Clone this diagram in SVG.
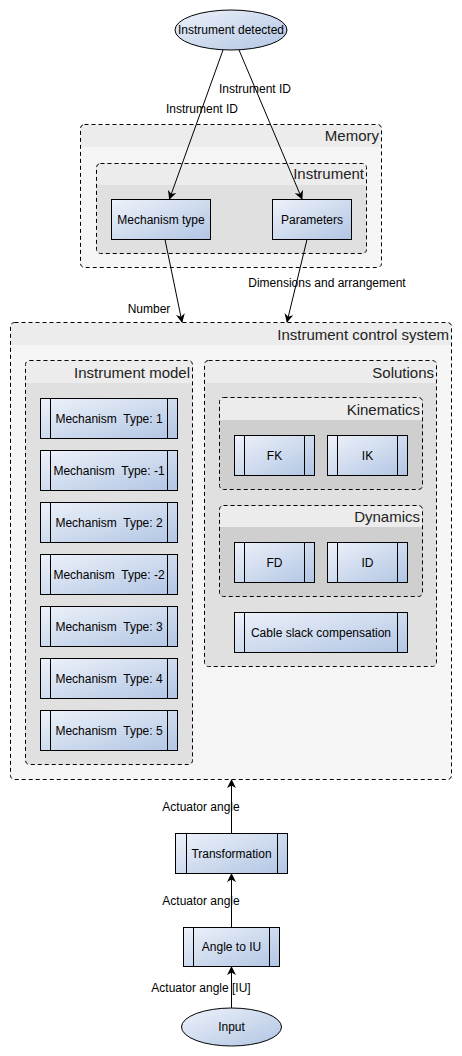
<svg xmlns="http://www.w3.org/2000/svg" width="462" height="1056" viewBox="0 0 462 1056">
<defs>
<linearGradient id="g" x1="0" y1="0" x2="1" y2="1">
<stop offset="0" stop-color="#eef2fa"/>
<stop offset="1" stop-color="#b1c5e3"/>
</linearGradient>
<marker id="arr" viewBox="0 0 10 10" refX="9" refY="5" markerWidth="9" markerHeight="9" orient="auto" markerUnits="userSpaceOnUse">
<path d="M0,0 L10,5 L0,10 L3,5 Z" fill="#000"/>
</marker>
</defs>
<style>
text{font-family:"Liberation Sans",Arial,sans-serif;fill:#000;white-space:pre}
.lbl{font-size:12px;text-anchor:middle;dominant-baseline:central}
.ttl{font-size:15px;text-anchor:end;fill:#222}
.box{fill:url(#g);stroke:#000;stroke-width:1}
.bar{stroke:#000;stroke-width:1}
.cont{stroke:#000;stroke-width:1;stroke-dasharray:4,3}
.line{stroke:#000;stroke-width:1;fill:none;marker-end:url(#arr)}
</style>
<rect width="462" height="1056" fill="#fff"/>

<g id="memory">
<rect x="80.5" y="124.5" width="301" height="143" rx="4" fill="#f5f5f5"/>
<rect x="81" y="125" width="300" height="22" fill="#ececec"/>
<rect x="80.5" y="124.5" width="301" height="143" rx="4" fill="none" class="cont"/>
<text class="ttl" x="379" y="141">Memory</text>
</g>
<g id="instrument">
<rect x="96.5" y="163.5" width="270" height="90" rx="4" fill="#e0e0e0"/>
<rect x="97" y="164" width="269" height="21" fill="#ececec"/>
<rect x="96.5" y="163.5" width="270" height="90" rx="4" fill="none" class="cont"/>
<text class="ttl" x="364" y="179">Instrument</text>
</g>
<g id="mechanism-type">
<rect class="box" x="111.5" y="199.5" width="99" height="40"/>
<text class="lbl" x="161" y="219.5">Mechanism type</text>
</g>
<g id="parameters">
<rect class="box" x="272.5" y="199.5" width="79" height="40"/>
<text class="lbl" x="312" y="219.5">Parameters</text>
</g>

<g id="instrument-detected">
<ellipse cx="231" cy="30" rx="56" ry="20" fill="url(#g)" stroke="#000"/>
<text class="lbl" x="231" y="30">Instrument detected</text>
</g>

<g id="ics">
<rect x="10.5" y="322.5" width="441" height="457" rx="4" fill="#f5f5f5"/>
<rect x="11" y="323" width="440" height="22" fill="#ececec"/>
<rect x="10.5" y="322.5" width="441" height="457" rx="4" fill="none" class="cont"/>
<text class="ttl" x="449" y="340">Instrument control system</text>
</g>
<g id="instrument-model">
<rect x="25.5" y="360.5" width="167" height="404" rx="4" fill="#e0e0e0"/>
<rect x="26" y="361" width="166" height="22" fill="#ececec"/>
<rect x="25.5" y="360.5" width="167" height="404" rx="4" fill="none" class="cont"/>
<text class="ttl" x="190" y="378">Instrument model</text>
</g>
<g id="solutions">
<rect x="204.5" y="360.5" width="232" height="306" rx="4" fill="#e0e0e0"/>
<rect x="205" y="361" width="231" height="22" fill="#ececec"/>
<rect x="204.5" y="360.5" width="232" height="306" rx="4" fill="none" class="cont"/>
<text class="ttl" x="434" y="378">Solutions</text>
</g>
<g id="kinematics">
<rect x="219.5" y="397.5" width="203" height="92" rx="4" fill="#cfcfcf"/>
<rect x="220" y="398" width="202" height="22" fill="#ececec"/>
<rect x="219.5" y="397.5" width="203" height="92" rx="4" fill="none" class="cont"/>
<text class="ttl" x="420" y="415">Kinematics</text>
</g>
<g id="dynamics">
<rect x="219.5" y="505.5" width="203" height="91" rx="4" fill="#cfcfcf"/>
<rect x="220" y="506" width="202" height="21" fill="#ececec"/>
<rect x="219.5" y="505.5" width="203" height="91" rx="4" fill="none" class="cont"/>
<text class="ttl" x="420" y="522">Dynamics</text>
</g>

<g id="fk"><rect class="box" x="234.5" y="435.5" width="80" height="40"/><line class="bar" x1="244.5" y1="435.5" x2="244.5" y2="475.5"/><line class="bar" x1="304.5" y1="435.5" x2="304.5" y2="475.5"/><text class="lbl" x="274.5" y="455.5">FK</text></g>
<g id="ik"><rect class="box" x="327.5" y="435.5" width="80" height="40"/><line class="bar" x1="337.5" y1="435.5" x2="337.5" y2="475.5"/><line class="bar" x1="397.5" y1="435.5" x2="397.5" y2="475.5"/><text class="lbl" x="367.5" y="455.5">IK</text></g>
<g id="fd"><rect class="box" x="234.5" y="542.5" width="80" height="40"/><line class="bar" x1="244.5" y1="542.5" x2="244.5" y2="582.5"/><line class="bar" x1="304.5" y1="542.5" x2="304.5" y2="582.5"/><text class="lbl" x="274.5" y="562.5">FD</text></g>
<g id="id"><rect class="box" x="327.5" y="542.5" width="80" height="40"/><line class="bar" x1="337.5" y1="542.5" x2="337.5" y2="582.5"/><line class="bar" x1="397.5" y1="542.5" x2="397.5" y2="582.5"/><text class="lbl" x="367.5" y="562.5">ID</text></g>
<g id="cable-slack"><rect class="box" x="234.5" y="612.5" width="173" height="40"/><line class="bar" x1="244.5" y1="612.5" x2="244.5" y2="652.5"/><line class="bar" x1="397.5" y1="612.5" x2="397.5" y2="652.5"/><text class="lbl" x="321" y="632.5">Cable slack compensation</text></g>

<g id="mt1"><rect class="box" x="40.5" y="398.5" width="137" height="40"/><line class="bar" x1="50.5" y1="398.5" x2="50.5" y2="438.5"/><line class="bar" x1="167.5" y1="398.5" x2="167.5" y2="438.5"/><text class="lbl" x="109" y="418.5" xml:space="preserve">Mechanism  Type: 1</text></g>
<g id="mt-1"><rect class="box" x="40.5" y="450.5" width="137" height="40"/><line class="bar" x1="50.5" y1="450.5" x2="50.5" y2="490.5"/><line class="bar" x1="167.5" y1="450.5" x2="167.5" y2="490.5"/><text class="lbl" x="109" y="470.5" xml:space="preserve">Mechanism  Type: -1</text></g>
<g id="mt2"><rect class="box" x="40.5" y="502.5" width="137" height="40"/><line class="bar" x1="50.5" y1="502.5" x2="50.5" y2="542.5"/><line class="bar" x1="167.5" y1="502.5" x2="167.5" y2="542.5"/><text class="lbl" x="109" y="522.5" xml:space="preserve">Mechanism  Type: 2</text></g>
<g id="mt-2"><rect class="box" x="40.5" y="554.5" width="137" height="40"/><line class="bar" x1="50.5" y1="554.5" x2="50.5" y2="594.5"/><line class="bar" x1="167.5" y1="554.5" x2="167.5" y2="594.5"/><text class="lbl" x="109" y="574.5" xml:space="preserve">Mechanism  Type: -2</text></g>
<g id="mt3"><rect class="box" x="40.5" y="606.5" width="137" height="40"/><line class="bar" x1="50.5" y1="606.5" x2="50.5" y2="646.5"/><line class="bar" x1="167.5" y1="606.5" x2="167.5" y2="646.5"/><text class="lbl" x="109" y="626.5" xml:space="preserve">Mechanism  Type: 3</text></g>
<g id="mt4"><rect class="box" x="40.5" y="658.5" width="137" height="40"/><line class="bar" x1="50.5" y1="658.5" x2="50.5" y2="698.5"/><line class="bar" x1="167.5" y1="658.5" x2="167.5" y2="698.5"/><text class="lbl" x="109" y="678.5" xml:space="preserve">Mechanism  Type: 4</text></g>
<g id="mt5"><rect class="box" x="40.5" y="710.5" width="137" height="40"/><line class="bar" x1="50.5" y1="710.5" x2="50.5" y2="750.5"/><line class="bar" x1="167.5" y1="710.5" x2="167.5" y2="750.5"/><text class="lbl" x="109" y="730.5" xml:space="preserve">Mechanism  Type: 5</text></g>

<g id="transformation"><rect class="box" x="175.5" y="833.5" width="112" height="40"/><line class="bar" x1="186.5" y1="833.5" x2="186.5" y2="873.5"/><line class="bar" x1="277.5" y1="833.5" x2="277.5" y2="873.5"/><text class="lbl" x="231.5" y="853.5">Transformation</text></g>
<g id="angle-to-iu"><rect class="box" x="183.5" y="927.5" width="96" height="39"/><line class="bar" x1="193.5" y1="927.5" x2="193.5" y2="966.5"/><line class="bar" x1="269.5" y1="927.5" x2="269.5" y2="966.5"/><text class="lbl" x="231.5" y="947">Angle to IU</text></g>
<g id="input">
<ellipse cx="231.5" cy="1027" rx="50" ry="19" fill="url(#g)" stroke="#000"/>
<text class="lbl" x="231.5" y="1027">Input</text>
</g>

<g id="connectors">
<line class="line" x1="223" y1="50" x2="169.5" y2="199"/>
<line class="line" x1="239" y1="50" x2="302" y2="199"/>
<line class="line" x1="165" y1="239.5" x2="182" y2="322"/>
<line class="line" x1="307" y1="239.5" x2="287" y2="322"/>
<line class="line" x1="231.5" y1="1008" x2="231.5" y2="967"/>
<line class="line" x1="231.5" y1="927" x2="231.5" y2="874"/>
<line class="line" x1="231.5" y1="833" x2="231.5" y2="780"/>
<text class="lbl" x="202" y="108.5">Instrument ID</text>
<text class="lbl" x="255" y="88.5">Instrument ID</text>
<text class="lbl" x="149" y="308.5">Number</text>
<text class="lbl" x="327" y="282.5">Dimensions and arrangement</text>
<text class="lbl" x="201" y="807">Actuator angle</text>
<text class="lbl" x="201" y="900.5">Actuator angle</text>
<text class="lbl" x="201" y="988">Actuator angle [IU]</text>
</g>
</svg>
